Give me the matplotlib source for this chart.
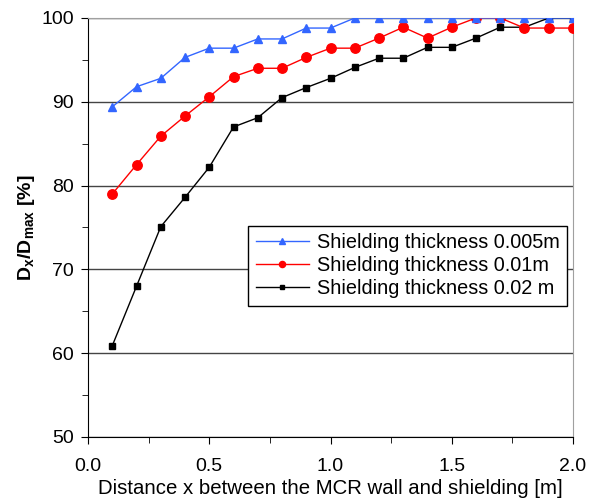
import matplotlib.pyplot as plt
from matplotlib.ticker import MultipleLocator, FormatStrFormatter

plt.rcParams['font.family'] = ['Liberation Sans', 'DejaVu Sans']
plt.rcParams['mathtext.fontset'] = 'custom'
plt.rcParams['mathtext.rm'] = 'Liberation Sans'
plt.rcParams['mathtext.bf'] = 'Liberation Sans:bold'

# distance from the MCR wall [m]
x = [0.1, 0.2, 0.3, 0.4, 0.5, 0.6, 0.7, 0.8, 0.9, 1.0,
     1.1, 1.2, 1.3, 1.4, 1.5, 1.6, 1.7, 1.8, 1.9, 2.0]

# Dx/Dmax [%] for each shielding thickness
d_005 = [89.4, 91.8, 92.8, 95.3, 96.4, 96.4, 97.5, 97.5, 98.8, 98.8,
         100, 100, 100, 100, 100, 100, 100, 100, 100, 100]
d_01 = [79.0, 82.5, 85.9, 88.3, 90.6, 93.0, 94.0, 94.0, 95.3, 96.4,
        96.4, 97.6, 98.9, 97.6, 98.9, 100, 100, 98.8, 98.8, 98.8]
d_02 = [60.9, 68.0, 75.1, 78.6, 82.2, 87.0, 88.1, 90.5, 91.7, 92.8,
        94.1, 95.2, 95.2, 96.5, 96.5, 97.6, 98.9, 98.9, 100, 100]

labels = ['Shielding thickness 0.005m',
          'Shielding thickness 0.01m',
          'Shielding thickness 0.02 m']

fig = plt.figure(figsize=(5.95, 5.0), dpi=100)
ax = fig.add_axes([0.148, 0.126, 0.815, 0.838])

ax.plot(x, d_005, '-^', color='#3366ff', lw=1, markersize=6, label=labels[0], zorder=5)
ax.plot(x, d_01, '-o', color='#ff0000', lw=1, markersize=6.8, label=labels[1], zorder=4)
ax.plot(x, d_02, '-s', color='black', lw=1, markersize=4.6, label=labels[2], zorder=3)

ax.set_xlim(0, 2.0)
ax.set_ylim(50, 100)
ax.xaxis.set_major_locator(MultipleLocator(0.5))
ax.xaxis.set_minor_locator(MultipleLocator(0.25))
ax.xaxis.set_major_formatter(FormatStrFormatter('%.1f'))
ax.yaxis.set_major_locator(MultipleLocator(10))
ax.yaxis.set_minor_locator(MultipleLocator(5))

ax.grid(axis='y', which='major', color='#444444', lw=1, zorder=1)
ax.tick_params(which='both', direction='out', labelsize=14, color='black')
ax.tick_params(which='major', length=5)
ax.tick_params(which='minor', length=4)
ax.tick_params(axis='x', pad=10)
ax.tick_params(axis='y', pad=5)

for side in ['top', 'right']:
    ax.spines[side].set_color('#a0a0a0')
ax.spines['left'].set_color('black')
ax.spines['bottom'].set_color('black')

ax.set_xlabel('Distance x between the MCR wall and shielding [m]', fontsize=14.7, labelpad=3)
ax.set_ylabel(r'$\mathbf{D_{x}/D_{max}}$ [%]', fontsize=14, fontweight='bold', labelpad=3)

leg = ax.legend(loc='upper left', bbox_to_anchor=(0.33, 0.504), fontsize=14.3,
                frameon=True, fancybox=False, edgecolor='black', framealpha=1,
                handlelength=2.7, markerscale=0.65, borderpad=0.38, labelspacing=0.2,
                handletextpad=0.4, borderaxespad=0)
leg.get_frame().set_linewidth(1)

fig.savefig('out.png', dpi=100)
